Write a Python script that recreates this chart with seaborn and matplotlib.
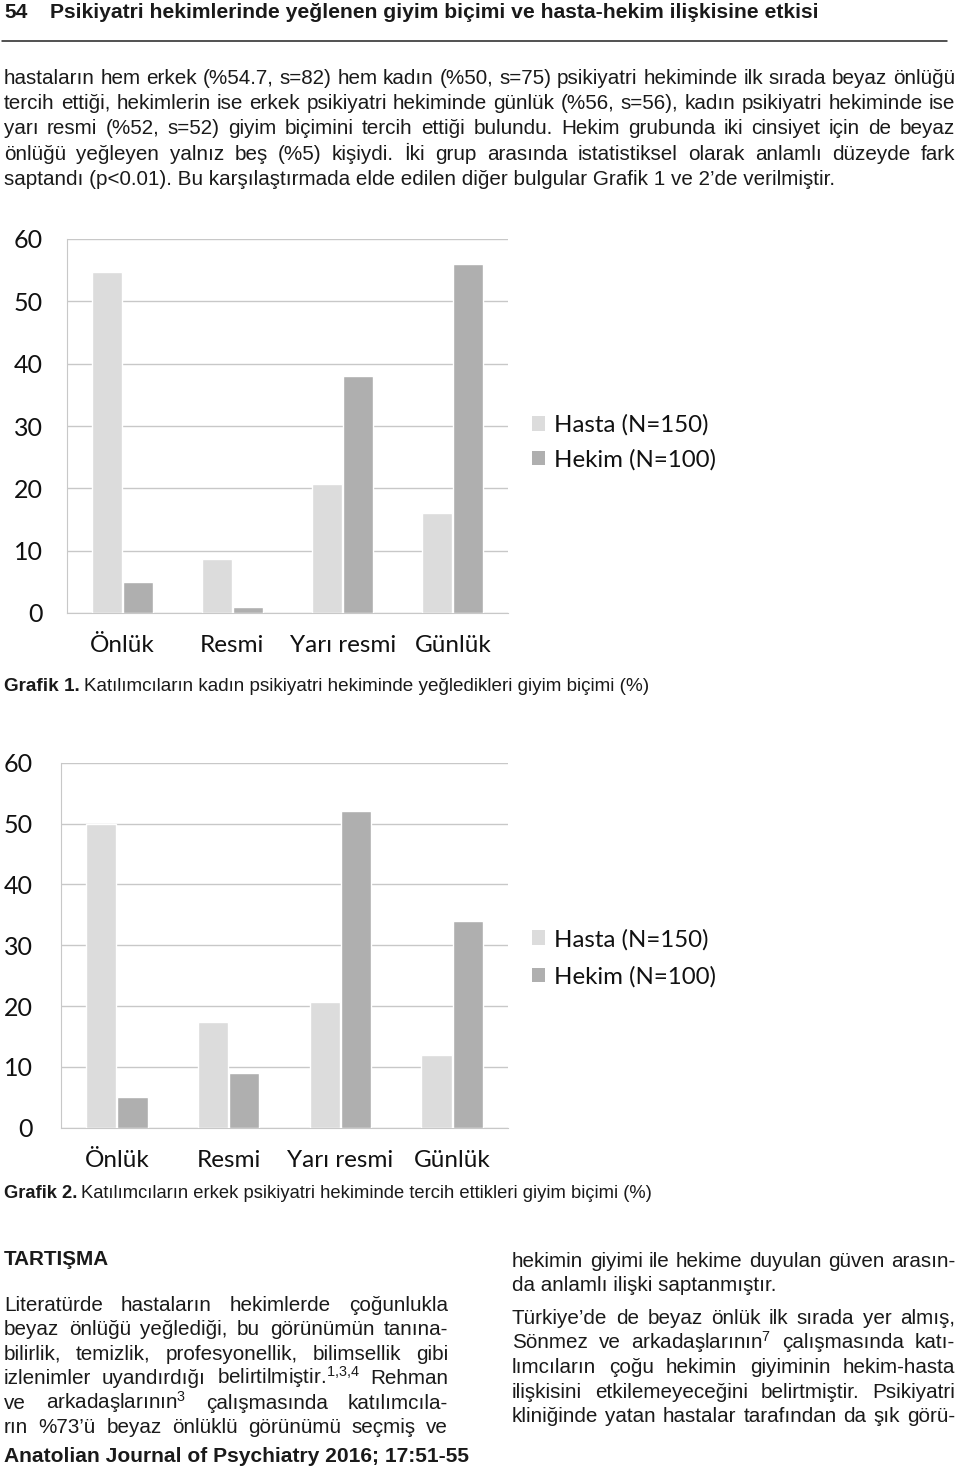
import pandas as pd
import matplotlib
matplotlib.use('Agg')
import matplotlib.pyplot as plt
from matplotlib.lines import Line2D
from matplotlib.patches import Patch
import seaborn as sns

# grafik verileri (%)
kategoriler = ['Önlük', 'Resmi', 'Yarı resmi', 'Günlük']
gruplar = ['Hasta (N=150)', 'Hekim (N=100)']
hasta_kadin = [54.7, 8.7, 20.7, 16.0]
hekim_kadin = [5, 1, 38, 56]
hasta_erkek = [50.0, 17.3, 20.7, 12.0]
hekim_erkek = [5, 9, 52, 34]
y_ticks = [0, 10, 20, 30, 40, 50, 60]

renkler = ['#dcdcdc', '#afafaf']
GRI = '#c8c8c8'

# sayfa metinleri
baslik_no = '54'
baslik = 'Psikiyatri hekimlerinde yeğlenen giyim biçimi ve hasta-hekim ilişkisine etkisi'
paragraf1 = [
    'hastaların hem erkek (%54.7, s=82) hem kadın (%50, s=75) psikiyatri hekiminde ilk sırada beyaz önlüğü',
    'tercih ettiği, hekimlerin ise erkek psikiyatri hekiminde günlük (%56, s=56), kadın psikiyatri hekiminde ise',
    'yarı resmi (%52, s=52) giyim biçimini tercih ettiği bulundu. Hekim grubunda iki cinsiyet için de beyaz',
    'önlüğü yeğleyen yalnız beş (%5) kişiydi. İki grup arasında istatistiksel olarak anlamlı düzeyde fark',
    'saptandı (p<0.01). Bu karşılaştırmada elde edilen diğer bulgular Grafik 1 ve 2’de verilmiştir.',
]
grafik1_bas = 'Grafik 1.'
grafik1_alt = 'Katılımcıların kadın psikiyatri hekiminde yeğledikleri giyim biçimi (%)'
grafik2_bas = 'Grafik 2.'
grafik2_alt = 'Katılımcıların erkek psikiyatri hekiminde tercih ettikleri giyim biçimi (%)'
tartisma = 'TARTIŞMA'
sol_sutun = [
    'Literatürde hastaların hekimlerde çoğunlukla',
    'beyaz önlüğü yeğlediği, bu görünümün tanına-',
    'bilirlik, temizlik, profesyonellik, bilimsellik gibi',
    r'izlenimler uyandırdığı belirtilmiştir.$^{\mathrm{1{,}3{,}4}}$ Rehman',
    r've arkadaşlarının$^{\mathrm{3}}$ çalışmasında katılımcıla-',
    'rın %73’ü beyaz önlüklü görünümü seçmiş ve',
]
sag_sutun1 = [
    'hekimin giyimi ile hekime duyulan güven arasın-',
    'da anlamlı ilişki saptanmıştır.',
]
sag_sutun2 = [
    'Türkiye’de de beyaz önlük ilk sırada yer almış,',
    r'Sönmez ve arkadaşlarının$^{\mathrm{7}}$ çalışmasında katı-',
    'lımcıların çoğu hekimin giyiminin hekim-hasta',
    'ilişkisini etkilemeyeceğini belirtmiştir. Psikiyatri',
    'kliniğinde yatan hastalar tarafından da şık görü-',
]
dergi = 'Anatolian Journal of Psychiatry 2016; 17:51-55'

W, H = 960, 1468
sns.set_theme(style='white')
plt.rcParams['font.family'] = ['Liberation Sans', 'DejaVu Sans']
plt.rcParams['mathtext.fontset'] = 'custom'
plt.rcParams['mathtext.rm'] = 'Liberation Sans'
plt.rcParams['mathtext.it'] = 'Liberation Sans:italic'
plt.rcParams['text.color'] = '#1a1a1a'

fig = plt.figure(figsize=(W / 100, H / 100), dpi=100)
fig.patch.set_facecolor('white')
renderer = fig.canvas.get_renderer()


def fx(x):
    return x / W


def fy(y):
    return 1 - y / H


def genislik(t):
    return t.get_window_extent(renderer).width


def yaz(x0, y, s, size, weight='normal'):
    return fig.text(fx(x0), fy(y), s, fontsize=size, weight=weight, va='baseline', ha='left')


def sigdir(x0, x1, y, s, weight='normal'):
    t = yaz(x0, y, s, 12, weight)
    t.set_fontsize(12 * (x1 - x0) / genislik(t))
    return t


def yasla(x0, x1, y, s, size):
    kel = s.split(' ')
    objs = [yaz(x0, y, k, size) for k in kel]
    ws = [genislik(o) for o in objs]
    bos = (x1 - x0 - sum(ws)) / (len(kel) - 1)
    x = x0
    for o, w in zip(objs, ws):
        o.set_x(fx(x))
        x += w + bos


# govde yazi boyu: ilk satirin dogal genisligi
olcu = yaz(4, 0, paragraf1[0], 12)
govde = 12 * (955 - 4) / genislik(olcu)
olcu.remove()

# ust bilgi
yaz(4, 18, baslik_no, govde * 1.02, 'bold')
sigdir(50, 813, 18, baslik, 'bold')
fig.add_artist(Line2D([fx(2), fx(947)], [fy(40.5), fy(40.5)], color='#222222', lw=1.1))

# paragraf
for i, s in enumerate(paragraf1):
    y = 83.5 + 25.4 * i
    if i < len(paragraf1) - 1:
        yasla(4, 955, y, s, govde)
    else:
        yaz(4, y, s, govde)


def grafik(ax, hasta, hekim, pad_y, leg_y, leg_aralik):
    df = pd.DataFrame({
        'kategori': kategoriler * 2,
        'grup': [gruplar[0]] * len(hasta) + [gruplar[1]] * len(hekim),
        'yuzde': hasta + hekim,
    })
    sns.barplot(data=df, x='kategori', y='yuzde', hue='grup', order=kategoriler,
                hue_order=gruplar, palette=renkler, saturation=1, width=0.56, gap=0.03,
                errorbar=None, legend=False, ax=ax, zorder=3)
    ax.set_xlabel('')
    ax.set_ylabel('')
    ax.set_ylim(0, 60)
    ax.set_xlim(-0.5, len(kategoriler) - 0.5)
    ax.set_yticks(y_ticks)
    ax.yaxis.grid(True, color=GRI, lw=1)
    ax.set_axisbelow(True)
    for k in ['top', 'right']:
        ax.spines[k].set_visible(False)
    for k in ['left', 'bottom']:
        ax.spines[k].set_color(GRI)
        ax.spines[k].set_linewidth(0.8)
    ax.set_xticks([i - 0.5 for i in range(len(kategoriler) + 1)], minor=True)
    ax.tick_params(axis='x', which='minor', length=5, width=0.8, color=GRI, direction='out')
    ax.tick_params(axis='x', which='major', length=0, pad=28, labelsize=17.5, labelcolor='#111111')
    ax.tick_params(axis='y', length=6.5, width=0.8, color=GRI, direction='out', pad=pad_y,
                   labelsize=18, labelcolor='#111111')
    for lab in ax.get_xticklabels():
        lab.set_fontfamily('Lato')
        lab.set_va('baseline')
    for lab in ax.get_yticklabels():
        lab.set_fontfamily('Lato')
    el = [Patch(facecolor=c, edgecolor='none') for c in renkler]
    fig.legend(el, gruplar, loc='center left', bbox_to_anchor=(fx(532), fy(leg_y)),
               frameon=False, prop={'family': 'Lato', 'size': 17.3}, handlelength=0.55,
               handleheight=0.55, handletextpad=0.35, labelspacing=leg_aralik,
               borderpad=0, borderaxespad=0, labelcolor='#111111')


ax1 = fig.add_axes([fx(67), fy(613), (508 - 67) / W, (613 - 239) / H])
grafik(ax1, hasta_kadin, hekim_kadin, 11, 442.5, 0.55)
ax2 = fig.add_axes([fx(61), fy(1127.7), (508 - 61) / W, (1127.7 - 762.7) / H])
grafik(ax2, hasta_erkek, hekim_erkek, 14, 958, 0.65)

# grafik altyazilari
for y, bas, alt in [(691, grafik1_bas, grafik1_alt), (1198, grafik2_bas, grafik2_alt)]:
    b = yaz(4, y, bas, 12, 'bold')
    r = yaz(4, y, alt, 12)
    bosluk = 12 * 0.28
    olcek = (653 - 4) / (genislik(b) + genislik(r) + bosluk)
    b.set_fontsize(12 * olcek)
    r.set_fontsize(12 * olcek)
    r.set_x(fx(4 + genislik(b) + bosluk * olcek))

# tartisma bolumu
yaz(4, 1265, tartisma, govde, 'bold')
for i, s in enumerate(sol_sutun):
    yasla(4, 448, 1311 + 24.4 * i, s, govde)
sigdir(4, 466, 1462, dergi, 'bold')

for i, s in enumerate(sag_sutun1):
    y = 1267 + 24 * i
    if i == 0:
        yasla(512, 955, y, s, govde)
    else:
        yaz(512, y, s, govde)
for i, s in enumerate(sag_sutun2):
    yasla(512, 955, 1324 + 24.5 * i, s, govde)

fig.savefig('out.png', dpi=100, facecolor='white')
